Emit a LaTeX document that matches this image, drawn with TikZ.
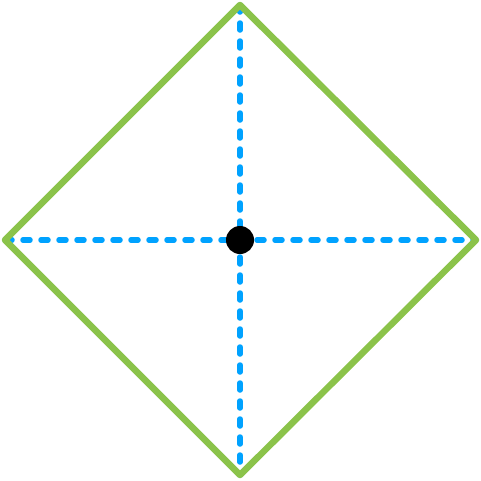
\documentclass[tikz,border=0pt]{standalone}
\definecolor{dgreen}{HTML}{8BC34A}
\definecolor{dblue}{HTML}{00A2FF}
\begin{document}
\begin{tikzpicture}[x=1pt,y=-1pt,
  edge/.style={draw=dgreen,line width=6.5pt,line join=round,line cap=round},
  axis/.style={draw=dblue,line width=5.5pt,line cap=round,dash pattern=on 7pt off 11pt}]
\useasboundingbox (0,0) rectangle (481,480);
\coordinate (t) at (240,5);
\coordinate (l) at (5,240);
\coordinate (r) at (476,240);
\coordinate (b) at (240,475);
\coordinate (c) at (240,240);
\draw[axis] (l) -- (r);
\draw[axis] (t) -- (b);
\draw[edge] (t) -- (r) -- (b) -- (l) -- cycle;
\fill[black] (c) circle (14);
\end{tikzpicture}
\end{document}
